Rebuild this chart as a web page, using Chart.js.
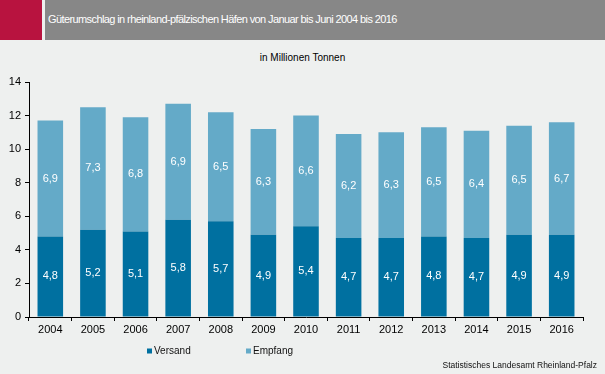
<!DOCTYPE html>
<html lang="de">
<head>
<meta charset="utf-8">
<script src="https://cdn.jsdelivr.net/npm/chart.js@4.4.1/dist/chart.umd.min.js"></script>
<style>
  html, body { margin: 0; padding: 0; background: #eef0ef; }
  #wrap { position: relative; width: 605px; height: 374px; overflow: hidden; font-family: "Liberation Sans", Arial, sans-serif; }
  #red { position: absolute; left: 0; top: 0; width: 42px; height: 40px; background: #b8133f; }
  #bar { position: absolute; left: 45px; top: 0; width: 560px; height: 40px; background: #878787; }
  #title { position: absolute; left: 48px; top: 13px; color: #fff; font-size: 11px; letter-spacing: -0.6px; white-space: nowrap; }
  #sub { position: absolute; left: 0; width: 605px; top: 52px; text-align: center; font-size: 10px; color: #000; }
  canvas { position: absolute; left: 0; top: 0; }
</style>
</head>
<body>
<div id="wrap">
  <div id="red"></div>
  <div id="bar"></div>
  <div id="title">Güterumschlag in rheinland-pfälzischen Häfen von Januar bis Juni 2004 bis 2016</div>
  <div id="sub">in Millionen Tonnen</div>
  <canvas id="chart" width="605" height="374"></canvas>
</div>
<script>
/* data */
var years = ['2004', '2005', '2006', '2007', '2008', '2009', '2010', '2011', '2012', '2013', '2014', '2015', '2016'];
var versand = [4.8, 5.2, 5.1, 5.8, 5.7, 4.9, 5.4, 4.7, 4.7, 4.8, 4.7, 4.9, 4.9];
var empfang = [6.9, 7.3, 6.8, 6.9, 6.5, 6.3, 6.6, 6.2, 6.3, 6.5, 6.4, 6.5, 6.7];
var yTicks = [0, 2, 4, 6, 8, 10, 12, 14];

var FONT = "'Liberation Sans', Arial, sans-serif";

/* white value labels in the middle of each segment */
var valueLabels = {
    id: 'valueLabels',
    afterDatasetsDraw: function (chart) {
        var c = chart.ctx;
        c.save();
        c.font = '11px ' + FONT;
        c.fillStyle = '#ffffff';
        c.textAlign = 'center';
        c.textBaseline = 'middle';
        chart.data.datasets.forEach(function (ds, i) {
            chart.getDatasetMeta(i).data.forEach(function (bar, j) {
                var txt = ds.data[j].toFixed(1).replace('.', ',');
                c.fillText(txt, bar.x, (bar.y + bar.base) / 2);
            });
        });
        c.restore();
    }
};

/* legend + source line at the bottom */
var bottomTexts = {
    id: 'bottomTexts',
    afterDraw: function (chart) {
        var c = chart.ctx;
        var xs = [147, 246];
        c.save();
        c.textBaseline = 'middle';
        c.textAlign = 'left';
        c.font = '10px ' + FONT;
        chart.data.datasets.forEach(function (ds, i) {
            c.fillStyle = ds.backgroundColor;
            c.fillRect(xs[i], 348.5, 5, 5);
            c.fillStyle = '#111';
            c.fillText(ds.label, xs[i] + 7, 351);
        });
        c.font = '8.5px ' + FONT;
        c.textAlign = 'right';
        c.fillText('Statistisches Landesamt Rheinland-Pfalz', 597, 366);
        c.restore();
    }
};

new Chart(document.getElementById('chart'), {
    type: 'bar',
    data: {
        labels: years,
        datasets: [
            { label: 'Versand', data: versand, backgroundColor: '#0070a0', barPercentage: 0.6, categoryPercentage: 1 },
            { label: 'Empfang', data: empfang, backgroundColor: '#64aac8', barPercentage: 0.6, categoryPercentage: 1 }
        ]
    },
    options: {
        responsive: false,
        animation: false,
        layout: { padding: { top: 82, right: 22, left: 0, bottom: 0 } },
        plugins: { legend: { display: false }, tooltip: { enabled: false } },
        scales: {
            x: {
                stacked: true,
                grid: { display: true, drawOnChartArea: false, tickLength: 4, color: '#000', offset: true },
                border: { color: '#000', width: 1 },
                ticks: { color: '#000', font: { family: FONT, size: 11 }, padding: 2, maxRotation: 0 },
                afterFit: function (s) { s.height = 57; }
            },
            y: {
                stacked: true,
                min: 0,
                max: 14,
                afterBuildTicks: function (s) { s.ticks = yTicks.map(function (v) { return { value: v }; }); },
                grid: { display: true, drawOnChartArea: false, tickLength: 4, color: '#000' },
                border: { color: '#000', width: 1 },
                ticks: { color: '#000', font: { family: FONT, size: 11 }, padding: 4 },
                afterFit: function (s) { s.width = 29; }
            }
        }
    },
    plugins: [valueLabels, bottomTexts]
});
</script>
</body>
</html>
